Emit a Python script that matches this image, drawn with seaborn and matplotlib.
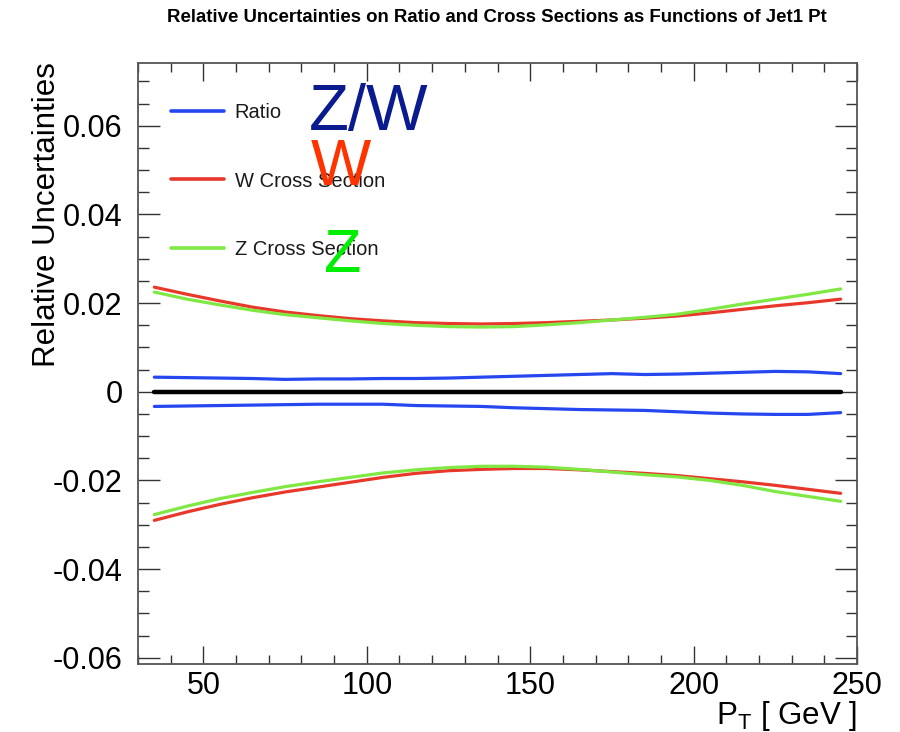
import matplotlib
matplotlib.use("Agg")
import matplotlib.pyplot as plt
import seaborn as sns
from matplotlib.ticker import MultipleLocator

# ---------------- data ----------------
pt = [35, 45, 55, 65, 75, 85, 95, 105, 115, 125, 135, 145, 155, 165, 175,
      185, 195, 205, 215, 225, 235, 245]

ratio_up = [0.0033, 0.0032, 0.0031, 0.0030, 0.0028, 0.0029, 0.0029, 0.0030,
            0.0030, 0.0031, 0.0033, 0.0035, 0.0037, 0.0039, 0.0041, 0.0039,
            0.0040, 0.0042, 0.0044, 0.0046, 0.0045, 0.0041]
ratio_dn = [-0.0033, -0.0032, -0.0031, -0.0030, -0.0029, -0.0028, -0.0028,
            -0.0028, -0.0031, -0.0032, -0.0033, -0.0036, -0.0038, -0.0040,
            -0.0041, -0.0042, -0.0045, -0.0048, -0.0050, -0.0051, -0.0051,
            -0.0047]
w_up = [0.0236, 0.0220, 0.0205, 0.0191, 0.0180, 0.0172, 0.0165, 0.0160,
        0.0156, 0.0154, 0.0153, 0.0154, 0.0156, 0.0159, 0.0162, 0.0166,
        0.0171, 0.0178, 0.0186, 0.0194, 0.0201, 0.0209]
w_dn = [-0.0290, -0.0271, -0.0254, -0.0239, -0.0226, -0.0215, -0.0204,
        -0.0193, -0.0184, -0.0178, -0.0175, -0.0173, -0.0173, -0.0176,
        -0.0180, -0.0184, -0.0189, -0.0196, -0.0203, -0.0211, -0.0220,
        -0.0229]
z_up = [0.0225, 0.0209, 0.0196, 0.0184, 0.0174, 0.0167, 0.0160, 0.0154,
        0.0150, 0.0147, 0.0146, 0.0147, 0.0151, 0.0156, 0.0162, 0.0168,
        0.0175, 0.0186, 0.0198, 0.0209, 0.0220, 0.0232]
z_dn = [-0.0277, -0.0258, -0.0241, -0.0227, -0.0214, -0.0203, -0.0193,
        -0.0183, -0.0176, -0.0171, -0.0168, -0.0168, -0.0170, -0.0175,
        -0.0181, -0.0187, -0.0192, -0.0200, -0.0211, -0.0225, -0.0236,
        -0.0247]
zero_x = [35, 245]
zero_y = [0.0, 0.0]

labels = ["Ratio", "W Cross Section", "Z Cross Section"]
title = "Relative Uncertainties on Ratio and Cross Sections as Functions of Jet1 Pt"

# ---------------- style ----------------
sns.set_style("white")
plt.rcParams["font.family"] = ["Liberation Sans", "DejaVu Sans"]
plt.rcParams["mathtext.fontset"] = "custom"
plt.rcParams["mathtext.rm"] = "Liberation Sans"
plt.rcParams["mathtext.it"] = "Liberation Sans"
for k in ["text.color", "axes.labelcolor", "xtick.color", "ytick.color"]:
    plt.rcParams[k] = "black"

c_blue = "#2646f0"
c_red = "#e8382a"
c_green = "#7fe843"

fig = plt.figure(figsize=(9.0, 7.32), dpi=100)
ax = fig.add_axes([138 / 900, 1 - 664 / 732, (857 - 138) / 900, (664 - 63.3) / 732])

lw = 2.3
series = [(ratio_up, ratio_dn, c_blue, labels[0]),
          (w_up, w_dn, c_red, labels[1]),
          (z_up, z_dn, c_green, labels[2])]
for up, dn, col, lab in series:
    sns.lineplot(x=pt, y=up, ax=ax, color=col, lw=lw, label=lab,
                 estimator=None, sort=False)
    sns.lineplot(x=pt, y=dn, ax=ax, color=col, lw=lw, label="_nolegend_",
                 estimator=None, sort=False)
sns.lineplot(x=zero_x, y=zero_y, ax=ax, color="black", lw=3.2,
             label="_nolegend_", estimator=None, sort=False)

ax.set_xlim(30, 250)
ax.set_ylim(-0.0614, 0.0741)

ax.xaxis.set_major_locator(MultipleLocator(50))
ax.xaxis.set_minor_locator(MultipleLocator(10))
ax.yaxis.set_major_locator(MultipleLocator(0.02))
ax.yaxis.set_minor_locator(MultipleLocator(0.005))
ax.yaxis.set_major_formatter(matplotlib.ticker.FuncFormatter(
    lambda v, p: "0" if abs(v) < 1e-9 else f"{v:.2f}"))

for sp in ax.spines.values():
    sp.set_color("#555555")
    sp.set_linewidth(1.3)

ax.tick_params(axis="x", which="major", direction="in", length=13, width=1.0,
               color="#333333", top=True, bottom=True, labelsize=22, pad=5)
ax.tick_params(axis="x", which="minor", direction="in", length=6.5, width=1.0,
               color="#333333", top=True, bottom=True)
ax.tick_params(axis="y", which="major", direction="in", length=16, width=1.0,
               color="#333333", left=True, right=True, labelsize=22, pad=11)
ax.tick_params(axis="y", which="minor", direction="in", length=8, width=1.0,
               color="#333333", left=True, right=True)

ax.set_xlabel("")
ax.set_ylabel("")

leg = ax.legend(loc="upper left", bbox_to_anchor=(0.035, 0.947), frameon=False,
                fontsize=14.5, handlelength=2.6, handletextpad=0.55,
                labelspacing=2.45, borderaxespad=0)
for h in leg.get_lines():
    h.set_linewidth(2.6)
for t in leg.get_texts():
    t.set_color("#1a1a1a")

# texts
fig.text(0.552, 1 - 18 / 732, title, ha="center", va="center",
         fontsize=13.4, fontweight="bold")
fig.text(47 / 900, 1 - 62 / 732, "Relative Uncertainties", rotation=90,
         ha="center", va="top", fontsize=22.5)
fig.text(857 / 900, 1 - 716 / 732, r"P$_{\mathrm{T}}$ [ GeV ]", ha="right",
         va="center", fontsize=22.5)

fig.text(309 / 900, 1 - 130 / 732, "Z/W", ha="left", va="baseline",
         fontsize=47, color="#0a1a8f")
fig.text(311 / 900, 1 - 185 / 732, "W", ha="left", va="baseline",
         fontsize=46, color="#ff3300")
fig.text(324 / 900, 1 - 272 / 732, "Z", ha="left", va="baseline",
         fontsize=44, color="#00ee00")

fig.savefig("out.png", dpi=100)
